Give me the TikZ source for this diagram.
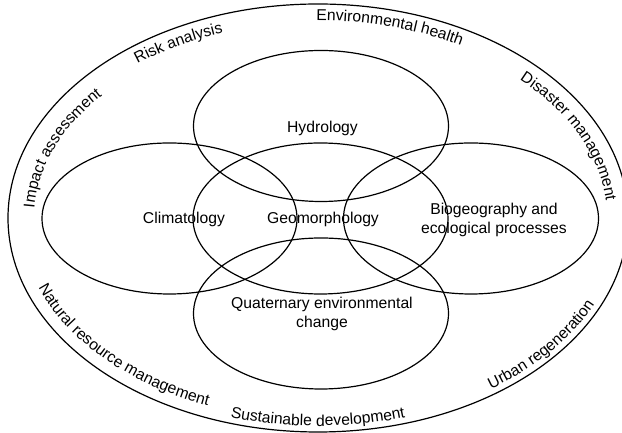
\documentclass[tikz,border=0pt]{standalone}
\usepackage{fontspec}
\setmainfont{Liberation Sans}
\usetikzlibrary{decorations.text}
\tikzset{
  ring/.style={draw, line width=0.6pt},
  field/.style={anchor=base, align=center, inner sep=0pt},
  rimtext/.style={decorate, decoration={text along path, text align=center, text={#1}}}
}
\begin{document}
\fontsize{7.85}{9.5}\selectfont
\begin{tikzpicture}[x=0.5pt, y=0.5pt]
	\useasboundingbox (0,0) rectangle (622,433);
	\clip (0,0) rectangle (622,433);

	\coordinate (env)   at (318,215);
	\coordinate (hydC)  at (321,307);
	\coordinate (geoC)  at (320.5,214.5);
	\coordinate (climC) at (169.5,214.5);
	\coordinate (bioC)  at (471,214.5);
	\coordinate (quatC) at (321,119.5);

	% the applied field round the five core fields
	\draw[ring] (env) ellipse [x radius=310, y radius=214];
	\draw[ring] (hydC)  ellipse [x radius=127.5, y radius=75.5];
	\draw[ring] (geoC)  ellipse [x radius=127.5, y radius=75.5];
	\draw[ring] (climC) ellipse [x radius=127.5, y radius=75.5];
	\draw[ring] (bioC)  ellipse [x radius=127.5, y radius=75.5];
	\draw[ring] (quatC) ellipse [x radius=127.5, y radius=75.5];

	\node[field] (hydro)    at (322.5,300) {Hydrology};
	\node[field] (clima)    at (184,209)   {Climatology};
	\node[field] (geomorph) at (323,209)   {Geomorphology};
	\node[field] (biogeo)   at (494,199)   {Biogeography and\\ecological processes};
	\node[field] (quatern)  at (322,105)   {Quaternary environmental\\change};

	% labels round the rim
	\path[rimtext=Impact assessment, shift={(env)}] (182.8:284 and 188) arc[start angle=182.8, end angle=134.8, x radius=284, y radius=188];
	\path[rimtext=Risk analysis, shift={(env)}] (132.8:292 and 196) arc[start angle=132.8, end angle=104.8, x radius=292, y radius=196];
	\path[rimtext=Environmental health, shift={(env)}] (94.4:293.5 and 197.5) arc[start angle=94.4, end angle=56.4, x radius=293.5, y radius=197.5];
	\path[rimtext=Disaster management, shift={(env)}] (49.8:289 and 193) arc[start angle=49.8, end angle=-0.2, x radius=289, y radius=193];
	\path[rimtext=Urban regeneration, shift={(env)}] (-59.4:304 and 208) arc[start angle=-59.4, end angle=-19.4, x radius=304, y radius=208];
	\path[rimtext=Sustainable development, shift={(env)}] (-111:304 and 208) arc[start angle=-111, end angle=-69, x radius=304, y radius=208];
	\path[rimtext=Natural resource management, shift={(env)}] (194.5:298 and 202) arc[start angle=194.5, end angle=252.5, x radius=298, y radius=202];
\end{tikzpicture}
\end{document}
